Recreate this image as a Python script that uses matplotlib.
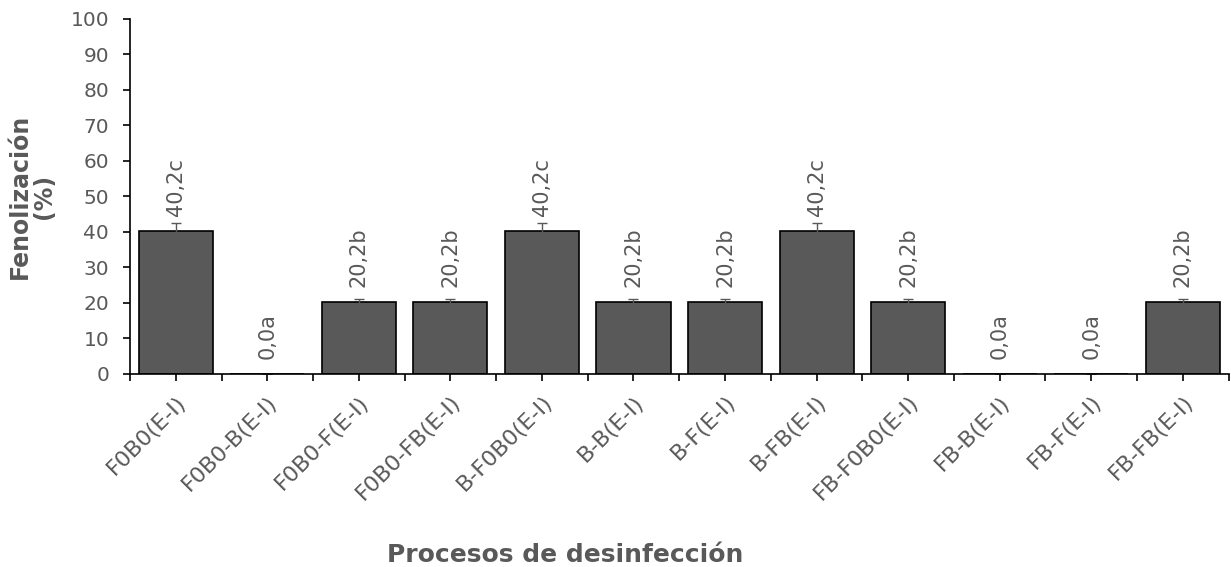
import numpy as np
import matplotlib.pyplot as plt

# data
categories = ['F0B0(E-I)', 'F0B0-B(E-I)', 'F0B0-F(E-I)', 'F0B0-FB(E-I)',
              'B-F0B0(E-I)', 'B-B(E-I)', 'B-F(E-I)', 'B-FB(E-I)',
              'FB-F0B0(E-I)', 'FB-B(E-I)', 'FB-F(E-I)', 'FB-FB(E-I)']
values = [40.2, 0.0, 20.2, 20.2, 40.2, 20.2, 20.2, 40.2, 20.2, 0.0, 0.0, 20.2]
errors = [2.2, 0.0, 1.0, 1.0, 2.2, 1.0, 1.0, 2.2, 1.0, 0.0, 0.0, 1.0]
letters = ['c', 'a', 'b', 'b', 'c', 'b', 'b', 'c', 'b', 'a', 'a', 'b']

grey = '#595959'

fig = plt.figure(figsize=(12.31, 5.67), dpi=100)
ax = fig.add_axes([0.1056, 0.3404, 0.8924, 0.6261])

x = np.arange(len(categories))
ax.bar(x, values, width=0.81, color=grey, edgecolor='black', linewidth=1.2)
ax.errorbar(x, values, yerr=errors, fmt='none', ecolor=grey, elinewidth=1,
            capsize=3.6, capthick=1)

# value + letter labels above each bar
for xi, v, l in zip(x, values, letters):
    label = f'{v:.1f}'.replace('.', ',') + l
    ax.annotate(label, (xi, v), xytext=(0, 11), textcoords='offset points',
                rotation=90, ha='center', va='bottom', fontsize=15, color=grey)

ax.set_xlim(-0.5, len(categories) - 0.5)
ax.set_ylim(0, 100)
ax.set_yticks(np.arange(0, 101, 10))
ax.set_xticks(x)
ax.set_xticks(np.arange(-0.5, len(categories), 1), minor=True)
ax.set_xticklabels(categories, rotation=45, ha='right', rotation_mode='anchor')

ax.tick_params(axis='both', which='both', direction='out', length=5,
               width=1.2, colors='black', labelcolor=grey)
ax.tick_params(axis='y', labelsize=14.5, pad=10)
ax.tick_params(axis='x', labelsize=16, pad=8)

for s in ['top', 'right']:
    ax.spines[s].set_visible(False)
for s in ['left', 'bottom']:
    ax.spines[s].set_linewidth(1.2)

fig.text(0.459, 0.008, 'Procesos de desinfección', ha='center', va='baseline',
         fontsize=18, fontweight='bold', color=grey)
fig.text(0.026, 0.6536, 'Fenolización\n(%)', ha='center', va='center',
         rotation=90, fontsize=17, fontweight='bold', color=grey,
         linespacing=1.05)

fig.savefig('out.png', dpi=100)
